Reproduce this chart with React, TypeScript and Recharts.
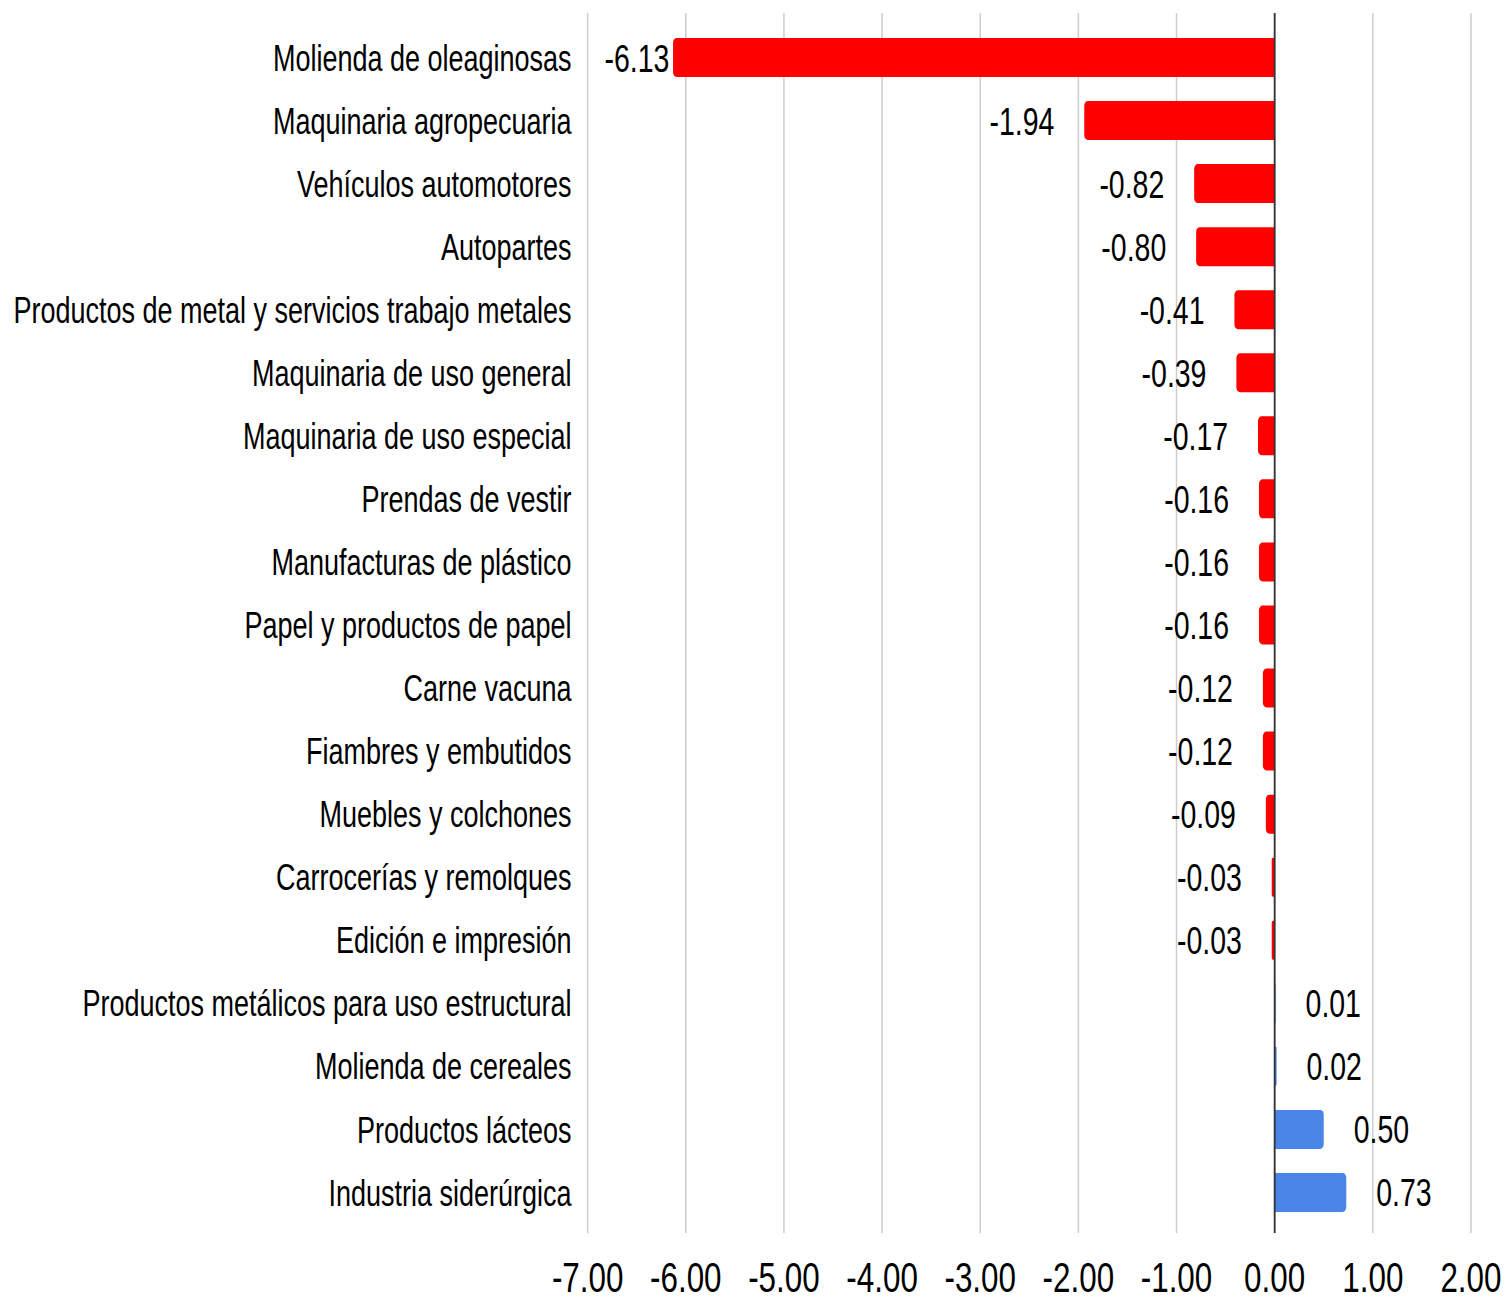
import React from 'react'
import {
  BarChart,
  Bar,
  XAxis,
  YAxis,
  CartesianGrid,
  ReferenceLine,
  Cell,
  LabelList,
} from 'recharts'

const categories = [
  'Molienda de oleaginosas',
  'Maquinaria agropecuaria',
  'Vehículos automotores',
  'Autopartes',
  'Productos de metal y servicios trabajo metales',
  'Maquinaria de uso general',
  'Maquinaria de uso especial',
  'Prendas de vestir',
  'Manufacturas de plástico',
  'Papel y productos de papel',
  'Carne vacuna',
  'Fiambres y embutidos',
  'Muebles y colchones',
  'Carrocerías y remolques',
  'Edición e impresión',
  'Productos metálicos para uso estructural',
  'Molienda de cereales',
  'Productos lácteos',
  'Industria siderúrgica',
]

const values = [
  -6.13, -1.94, -0.82, -0.8, -0.41, -0.39, -0.17, -0.16, -0.16, -0.16, -0.12, -0.12, -0.09,
  -0.03, -0.03, 0.01, 0.02, 0.5, 0.73,
]

const xTicks = [-7, -6, -5, -4, -3, -2, -1, 0, 1, 2]

const rows = categories.map((name, i) => ({ name, value: values[i] }))

// the reference is squeezed horizontally, so draw wide and scale the x axis down
const SX = 0.73
const W = Math.round(1507 / SX)
const H = 1301
const Y_AXIS_W = 805
const PLOT_RIGHT = 2015
const LABEL_FONT = 39
const LABEL_GAP = 41

const RED = '#ff0000'
const BLUE = '#4a86e8'

// rough Arial widths, enough to keep the long label inside the plot
function textWidth(s: string, size: number) {
  let w = 0
  for (const ch of s) w += ch === '.' ? 0.278 : ch === '-' ? 0.333 : 0.556
  return w * size
}

function ValueLabel(props: any) {
  const { x, y, width, height, value } = props
  const text = Number(value).toFixed(2)
  const end = x + width
  const cy = y + height / 2
  if (value < 0) {
    const right = end - LABEL_GAP
    const tw = textWidth(text, LABEL_FONT)
    if (right - tw < Y_AXIS_W + 23) {
      return (
        <text x={Y_AXIS_W + 23} y={cy} dy="0.36em" textAnchor="start" fontSize={LABEL_FONT} fill="#000">
          {text}
        </text>
      )
    }
    return (
      <text x={right} y={cy} dy="0.36em" textAnchor="end" fontSize={LABEL_FONT} fill="#000">
        {text}
      </text>
    )
  }
  return (
    <text x={end + LABEL_GAP} y={cy} dy="0.36em" textAnchor="start" fontSize={LABEL_FONT} fill="#000">
      {text}
    </text>
  )
}

export default function App() {
  return (
    <div
      style={{
        position: 'absolute',
        left: 0,
        top: 0,
        width: 1507,
        height: H,
        overflow: 'hidden',
        background: '#fff',
        fontFamily: '"Liberation Sans", Arial, sans-serif',
      }}
    >
      <div style={{ width: W, height: H, transform: `scaleX(${SX})`, transformOrigin: '0 0' }}>
        <BarChart
          width={W}
          height={H}
          layout="vertical"
          data={rows}
          margin={{ top: 13, right: W - PLOT_RIGHT, bottom: 0, left: 0 }}
        >
          <CartesianGrid horizontal={false} stroke="#cccccc" strokeWidth={2} />
          <XAxis
            type="number"
            domain={[-7, 2]}
            ticks={xTicks}
            tickFormatter={(v: number) => v.toFixed(2)}
            axisLine={false}
            tickLine={false}
            tickSize={0}
            tickMargin={28}
            height={68}
            tick={{ fontSize: 43, fill: '#000' }}
          />
          <YAxis
            type="category"
            dataKey="name"
            width={Y_AXIS_W}
            axisLine={false}
            tickLine={false}
            tickSize={0}
            tickMargin={22}
            interval={0}
            padding={{ top: 13, bottom: 9 }}
            tick={{ fontSize: 37, fill: '#000' }}
          />
          <ReferenceLine x={0} stroke="#333333" strokeWidth={2.5} />
          <Bar dataKey="value" barSize={39} radius={[0, 5, 5, 0]} isAnimationActive={false}>
            {rows.map((r, i) => (
              <Cell key={i} fill={r.value < 0 ? RED : BLUE} />
            ))}
            <LabelList dataKey="value" content={ValueLabel} />
          </Bar>
        </BarChart>
      </div>
    </div>
  )
}
